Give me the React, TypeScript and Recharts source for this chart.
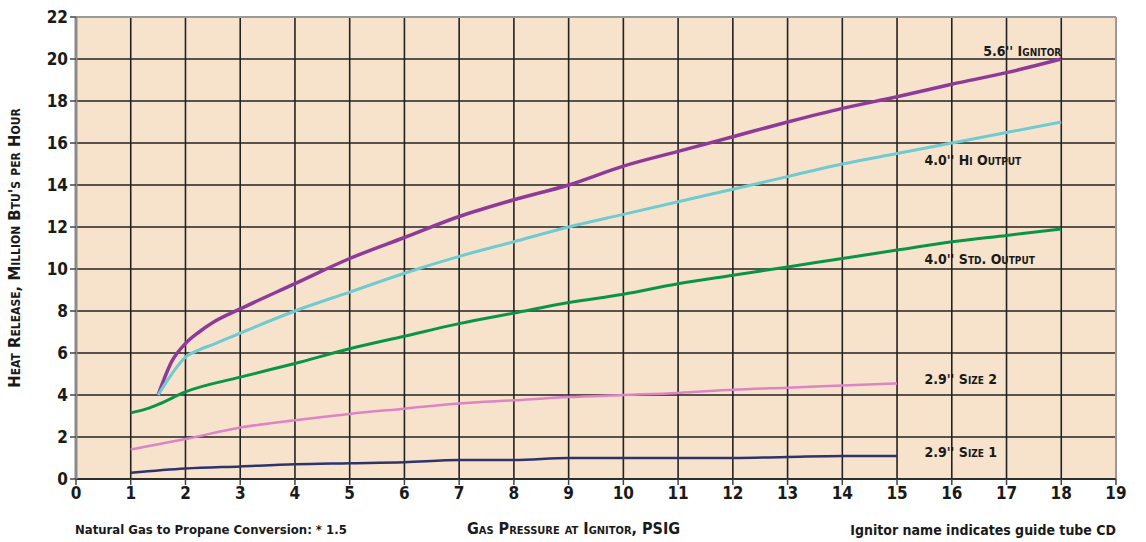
import React from 'react'
import {
  LineChart,
  Line,
  XAxis,
  YAxis,
  CartesianGrid,
  ReferenceDot,
  ReferenceLine,
} from 'recharts'

const xTicks = [0, 1, 2, 3, 4, 5, 6, 7, 8, 9, 10, 11, 12, 13, 14, 15, 16, 17, 18, 19]
const yTicks = [0, 2, 4, 6, 8, 10, 12, 14, 16, 18, 20, 22]

// gas pressure (psig) for each curve
const ignitorPsi = [1.5, 1.75, 2, 2.25, 2.5, 3, 4, 5, 6, 7, 8, 9, 10, 11, 12, 13, 14, 15, 16, 17, 18]
const ignitorBtu = [4.0, 5.6, 6.45, 7.0, 7.45, 8.1, 9.3, 10.5, 11.5, 12.5, 13.3, 14.0, 14.9, 15.6, 16.3, 17.0, 17.65, 18.2, 18.8, 19.35, 20.0]

const hiOutPsi = [1.5, 1.75, 2, 2.25, 2.5, 3, 4, 5, 6, 7, 8, 9, 10, 11, 12, 13, 14, 15, 16, 17, 18]
const hiOutBtu = [4.0, 5.0, 5.8, 6.15, 6.4, 6.95, 8.0, 8.9, 9.8, 10.6, 11.3, 12.0, 12.6, 13.2, 13.8, 14.4, 15.0, 15.5, 16.0, 16.5, 17.0]

const stdOutPsi = [1, 1.3, 1.5, 2, 3, 4, 5, 6, 7, 8, 9, 10, 11, 12, 13, 14, 15, 16, 17, 18]
const stdOutBtu = [3.15, 3.35, 3.55, 4.15, 4.85, 5.5, 6.2, 6.8, 7.4, 7.9, 8.4, 8.8, 9.3, 9.7, 10.1, 10.5, 10.9, 11.3, 11.6, 11.9]

const size2Psi = [1, 2, 3, 4, 5, 6, 7, 8, 9, 10, 11, 12, 13, 14, 15]
const size2Btu = [1.4, 1.9, 2.45, 2.8, 3.1, 3.35, 3.6, 3.75, 3.9, 4.0, 4.1, 4.25, 4.35, 4.45, 4.55]

const size1Psi = [1, 2, 3, 4, 5, 6, 7, 8, 9, 10, 11, 12, 13, 14, 15]
const size1Btu = [0.3, 0.5, 0.6, 0.7, 0.75, 0.8, 0.9, 0.9, 1.0, 1.0, 1.0, 1.0, 1.05, 1.1, 1.1]

const pts = (xs: number[], ys: number[]) => xs.map((x, i) => ({ x, y: ys[i] }))

const series = [
  { name: "5.6'' Ignitor", data: pts(ignitorPsi, ignitorBtu), color: '#8E3A98', w: 3.5 },
  { name: "4.0'' Hi Output", data: pts(hiOutPsi, hiOutBtu), color: '#6FCBCF', w: 3 },
  { name: "4.0'' Std. Output", data: pts(stdOutPsi, stdOutBtu), color: '#0B9446', w: 3 },
  { name: "2.9'' Size 2", data: pts(size2Psi, size2Btu), color: '#DE84C6', w: 2.5 },
  { name: "2.9'' Size 1", data: pts(size1Psi, size1Btu), color: '#2E336E', w: 2.5 },
]

// label anchors in data units
const labels = [
  { text: "5.6'' Ignitor", x: 18, y: 20.4, anchor: 'end' },
  { text: "4.0'' Hi Output", x: 15.5, y: 15.2, anchor: 'start' },
  { text: "4.0'' Std. Output", x: 15.5, y: 10.5, anchor: 'start' },
  { text: "2.9'' Size 2", x: 15.5, y: 4.75, anchor: 'start' },
  { text: "2.9'' Size 1", x: 15.5, y: 1.3, anchor: 'start' },
]

const FONT = "'DejaVu Sans Condensed', 'Liberation Sans Narrow', sans-serif"

const SeriesLabel = ({ viewBox, text, anchor }: any) => {
  const cx = viewBox.x + (viewBox.width || 0) / 2
  const cy = viewBox.y + (viewBox.height || 0) / 2
  return (
    <text x={cx} y={cy} dy={5} textAnchor={anchor} fontFamily={FONT} fontWeight={700}
      fontSize={14} fill="#1a1a1a" style={{ fontVariant: 'small-caps' }}>
      {text}
    </text>
  )
}

const YLabel = () => (
  <text x={20} y={248} transform="rotate(-90 20 248)" textAnchor="middle" fontFamily={FONT}
    fontWeight={700} fontSize={16.5} fill="#1a1a1a" style={{ fontVariant: 'small-caps' }}>
    Heat Release, Million Btu's per Hour
  </text>
)

export default function App() {
  return (
    <div style={{ position: 'absolute', left: 0, top: 0, width: 1146, height: 542, background: '#fff' }}>
      <LineChart width={1146} height={542} margin={{ top: 17, right: 30, bottom: 33, left: 0 }}>
        <CartesianGrid fill="#F7E3CB" stroke="#222" strokeWidth={1.6}
          verticalValues={xTicks} horizontalValues={yTicks} />
        <XAxis type="number" dataKey="x" domain={[0, 19]} ticks={xTicks} interval={0}
          height={30} tickSize={6} tickLine={{ stroke: '#444', strokeWidth: 1.5 }}
          axisLine={{ stroke: '#222', strokeWidth: 1.5 }}
          tick={{ fontFamily: FONT, fontWeight: 700, fontSize: 17, fill: '#1a1a1a' }} />
        <YAxis type="number" domain={[0, 22]} ticks={yTicks} interval={0} width={76}
          tickSize={6} tickLine={{ stroke: '#444', strokeWidth: 1.5 }}
          axisLine={{ stroke: '#8a8a8a', strokeWidth: 3 }}
          tick={{ fontFamily: FONT, fontWeight: 700, fontSize: 17, fill: '#1a1a1a' }}
          label={<YLabel />} />
        <ReferenceLine y={22} stroke="#9a9a9a" strokeWidth={2} />
        <ReferenceLine x={19} stroke="#9a9a9a" strokeWidth={2} />
        {series.map((s) => (
          <Line key={s.name} data={s.data} dataKey="y" type="monotone" stroke={s.color}
            strokeWidth={s.w} dot={false} isAnimationActive={false} />
        ))}
        {labels.map((l) => (
          <ReferenceDot key={l.text} x={l.x} y={l.y} r={0} stroke="none" fill="none"
            label={<SeriesLabel text={l.text} anchor={l.anchor} />} />
        ))}
      </LineChart>
      <div style={{ position: 'absolute', left: 75, top: 522, fontFamily: FONT, fontWeight: 700, fontSize: 13, color: '#1a1a1a' }}>
        Natural Gas to Propane Conversion: * 1.5
      </div>
      <div style={{ position: 'absolute', left: 467, top: 519, fontFamily: FONT, fontWeight: 700, fontSize: 16, color: '#1a1a1a', fontVariant: 'small-caps' }}>
        Gas Pressure at Ignitor, PSIG
      </div>
      <div style={{ position: 'absolute', right: 30, top: 522, fontFamily: FONT, fontWeight: 700, fontSize: 14, color: '#1a1a1a' }}>
        Ignitor name indicates guide tube CD
      </div>
    </div>
  )
}
